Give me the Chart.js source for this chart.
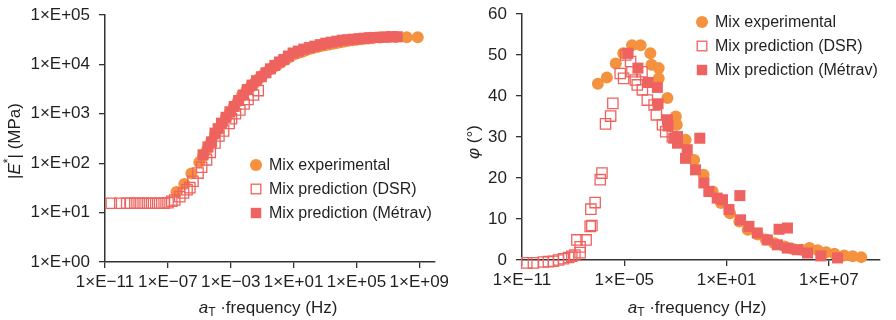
<!DOCTYPE html>
<html>
<head>
<meta charset="utf-8">
<script src="https://cdn.jsdelivr.net/npm/chart.js"></script>
<style>
body { margin: 0; background: #fff; }
#wrap { display: flex; width: 896px; height: 320px; }
canvas { display: block; }
</style>
</head>
<body>
<div id="wrap">
  <canvas id="modulusChart" width="448" height="320"></canvas>
  <canvas id="phaseChart" width="448" height="320"></canvas>
</div>
<script>
// reduced frequency is kept as log10(Hz)
const seriesNames = ['Mix experimental', 'Mix prediction (DSR)', 'Mix prediction (Métrav)'];

// |E*| master curve (MPa)
const modExpLogF = [-6.45,-5.95,-5.5,-5.0,-4.75,-4.5,-4.25,-4.0,-3.75,-3.55,-3.3,-3.05,-2.8,-2.55,-2.3,-2.0,-1.75,-1.5,-1.25,-1.0,-0.75,-0.5,-0.25,0,0.25,0.5,0.75,1.0,1.25,1.5,1.75,2.0,2.25,2.5,2.75,3.0,3.25,3.5,3.75,4.0,4.25,4.5,4.75,5.0,5.25,5.5,5.75,6.0,6.5,7.0,7.5,8.2,8.9];
const modExpE = [26,38,62,105,140,190,270,380,500,630,830,1070,1380,1780,2300,2950,3500,4170,5000,5890,6900,7940,9000,10000,11300,12600,14100,15800,16800,17800,19100,20400,21400,22400,23500,24500,25400,26300,27200,28200,29200,30200,30900,31600,32400,33100,33500,33900,35000,35700,36000,35500,35500];

const modDsrLogF = [-10.6,-10.06,-9.62,-9.37,-9.1,-8.83,-8.57,-8.3,-8.04,-7.77,-7.52,-7.24,-6.99,-6.75,-6.56,-6.24,-6.0,-5.78,-5.6,-5.4,-5.08,-4.85,-4.54,-4.3,-4.0,-3.75,-3.45,-3.1,-2.95,-2.7,-2.42,-2.15,-1.9,-1.55,-1.25];
const modDsrE = [15.5,15.5,15.5,15.5,15.5,15.5,15.5,15.5,15.5,15.5,15.5,15.5,15.8,17,18,21,25,29,32,43,63,83,117,166,257,355,450,640,794,1000,1200,1580,1950,2400,2950];

const modMetLogF = [-4.76,-4.45,-4.22,-4.0,-3.8,-3.59,-3.3,-3.05,-2.78,-2.5,-2.22,-1.95,-1.65,-1.36,-1.05,-0.76,-0.47,-0.19,0.1,0.38,0.67,0.97,1.3,1.65,2.0,2.35,2.7,3.05,3.4,3.75,4.1,4.45,4.8,5.15,5.5,5.85,6.2,6.55,6.9,7.25,7.6];
const modMetE = [148,214,270,407,500,646,850,1100,1410,1860,2400,3090,3800,4680,5620,6760,8130,9550,11200,12600,14800,17000,18600,20400,21900,23400,25100,26900,28200,29500,30900,31600,32400,33100,33900,34700,35100,35500,35900,36300,36300];

// phase angle (deg)
const phExpLogF = [-6.55,-6.02,-5.5,-5.06,-4.55,-4.04,-3.47,-3.4,-2.98,-2.98,-2.47,-1.98,-1.92,-1.4,-0.9,-0.35,0.18,0.67,1.2,1.75,2.24,2.82,3.3,3.8,4.4,4.9,5.4,5.86,6.35,6.84,7.33,7.9,8.4,8.9];
const phExpDeg = [43.0,44.5,47.9,50.4,52.4,52.4,50.4,47.6,46.8,44.3,39.5,35.0,33.0,29.3,24.4,20.8,16.7,13.9,11.4,9.4,7.4,6.2,5.0,4.1,3.3,2.7,2.5,2.9,2.4,1.9,1.5,1.1,0.9,0.7];

const phDsrLogF = [-10.72,-10.33,-9.75,-9.45,-9.16,-8.86,-8.57,-8.27,-8.08,-7.9,-7.78,-7.59,-7.59,-7.24,-7.0,-6.9,-6.96,-6.71,-6.41,-6.31,-6.1,-5.8,-5.67,-5.24,-5.04,-4.92,-4.63,-4.55,-4.35,-4.24,-3.96,-3.94,-3.65,-3.25,-3.12,-2.76,-2.57,-2.18];
const phDsrDeg = [-0.7,-0.7,-0.5,-0.4,-0.3,0,0.3,0.6,0.9,1.2,4.9,3.2,1.8,4.9,8.2,8.4,12.4,14,19.6,21.2,33.2,35.1,38.2,45.5,44.3,50,48.4,45.9,43.9,42.7,45.9,41.5,39,37.8,35.4,33,31.3,30.1];

const phMetLogF = [-4.78,-4.2,-3.6,-3.06,-3.02,-2.47,-2.43,-2.1,-1.88,-1.88,-1.31,-1.41,-0.82,-0.57,-0.33,-0.04,0.45,0.76,1.14,1.78,1.82,2.31,2.8,3.39,3.98,4.08,4.57,4.57,5.16,5.75,6.53,7.51];
const phMetDeg = [50.4,46.8,43.3,42.1,38.1,34.2,32.7,29.7,30.1,28.5,26.9,24.8,22.0,29.7,18.8,16.7,15.1,14.7,12.3,15.7,9.8,8.2,6.6,4.9,3.7,7.5,7.8,2.9,2.5,1.7,1.0,0.5];

// tick positions (log10 Hz / log10 MPa)
const modXTickExps = [-11, -7, -3, 1, 5, 9];
const modYTickExps = [0, 1, 2, 3, 4, 5];
const phXTickExps = [-11, -5, 1, 7];
const phYTicks = [0, 10, 20, 30, 40, 50, 60];

const FONT = '"Liberation Sans", Arial, sans-serif';
const TXT = '#231f20';
const AX = '#333';
const ORANGE = '#F4923F';
const RED = '#EE635F';

function pts(logF, vals) {
    return logF.map((f, i) => ({ x: Math.pow(10, f), y: vals[i] }));
}

function sciLabel(v) {
    const e = Math.round(Math.log10(v));
    const s = e < 0 ? '\u2212' : '+';
    return '1\u00d7E' + s + String(Math.abs(e)).padStart(2, '0');
}

function makeDatasets(exp, dsr, met) {
    return [{
        label: seriesNames[0], data: exp, order: 3, clip: false,
        pointStyle: 'circle', pointRadius: 6, pointHoverRadius: 6,
        backgroundColor: ORANGE, borderColor: ORANGE, borderWidth: 0
    }, {
        label: seriesNames[1], data: dsr, order: 2, clip: false,
        pointStyle: 'rect', pointRadius: 7.3, pointHoverRadius: 7.3,
        backgroundColor: 'rgba(255,255,255,0)', borderColor: RED, borderWidth: 1.3
    }, {
        label: seriesNames[2], data: met, order: 1, clip: false,
        pointStyle: 'rect', pointRadius: 7.8, pointHoverRadius: 7.8,
        backgroundColor: RED, borderColor: RED, borderWidth: 0
    }];
}

function drawRuns(ctx, runs, cx, cy) {
    let w = 0;
    runs.forEach(r => { ctx.font = r.font; w += ctx.measureText(r.text).width; });
    let x = cx - w / 2;
    ctx.textAlign = 'left';
    ctx.textBaseline = 'middle';
    runs.forEach(r => {
        ctx.font = r.font;
        ctx.fillText(r.text, x, cy + (r.dy || 0));
        x += ctx.measureText(r.text).width;
    });
}

// legend inside the plot and the mixed-style axis titles
const decor = {
    id: 'decor',
    afterDraw(chart, args, opts) {
        const ctx = chart.ctx;
        ctx.save();
        ctx.fillStyle = TXT;
        drawRuns(ctx, opts.xTitle.runs, opts.xTitle.x, opts.xTitle.y);
        ctx.save();
        ctx.translate(opts.yTitle.x, opts.yTitle.y);
        ctx.rotate(-Math.PI / 2);
        drawRuns(ctx, opts.yTitle.runs, 0, 0);
        ctx.restore();

        chart.data.datasets.forEach((ds, i) => {
            const mx = opts.legend.x, my = opts.legend.y + i * 24;
            if (ds.pointStyle === 'circle') {
                ctx.fillStyle = ds.backgroundColor;
                ctx.beginPath();
                ctx.arc(mx, my, 6, 0, Math.PI * 2);
                ctx.fill();
            } else if (ds.borderWidth > 0) {
                ctx.strokeStyle = ds.borderColor;
                ctx.lineWidth = ds.borderWidth;
                ctx.strokeRect(mx - 4.8, my - 4.8, 9.6, 9.6);
            } else {
                ctx.fillStyle = ds.backgroundColor;
                ctx.fillRect(mx - 5.2, my - 5.2, 10.4, 10.4);
            }
            ctx.fillStyle = TXT;
            ctx.font = '16px ' + FONT;
            ctx.textAlign = 'left';
            ctx.textBaseline = 'middle';
            ctx.fillText(ds.label, mx + 13, my + 1);
        });
        ctx.restore();
    }
};

const xTitleRuns = [
    { text: 'a', font: 'italic 17px ' + FONT },
    { text: 'T', font: '12px ' + FONT, dy: 5 },
    { text: ' \u00b7frequency (Hz)', font: '17px ' + FONT }
];

function axisStyle(extra) {
    return Object.assign({
        ticks: { color: TXT, font: { size: 17, family: FONT }, autoSkip: false, maxRotation: 0, padding: 4 },
        grid: { drawOnChartArea: false, drawTicks: true, tickLength: 6, color: AX, lineWidth: 1.3 },
        border: { display: true, color: AX, width: 1.5 }
    }, extra);
}

function stripPad(s) {
    s.paddingLeft = 0; s.paddingRight = 0; s.paddingTop = 0; s.paddingBottom = 0;
}

new Chart(document.getElementById('modulusChart'), {
    type: 'scatter',
    data: { datasets: makeDatasets(pts(modExpLogF, modExpE), pts(modDsrLogF, modDsrE), pts(modMetLogF, modMetE)) },
    options: {
        responsive: false, animation: false, events: [],
        layout: { padding: { top: 15, right: 13, left: 0, bottom: 0 } },
        plugins: {
            legend: { display: false }, tooltip: { enabled: false },
            decor: {
                legend: { x: 256, y: 165 },
                xTitle: { x: 268, y: 308, runs: xTitleRuns },
                yTitle: { x: 15, y: 141, runs: [
                    { text: '|', font: '17px ' + FONT },
                    { text: 'E', font: 'italic 17px ' + FONT },
                    { text: '*', font: '12px ' + FONT, dy: -6 },
                    { text: '| (MPa)', font: '17px ' + FONT }
                ] }
            }
        },
        scales: {
            x: axisStyle({
                type: 'logarithmic', min: 1e-11, max: 1e10,
                afterBuildTicks: s => { s.ticks = modXTickExps.map(e => ({ value: Math.pow(10, e) })); },
                afterFit: s => { s.height = 58; stripPad(s); },
                ticks: { color: TXT, font: { size: 17, family: FONT }, autoSkip: false, maxRotation: 0, padding: 4, callback: v => sciLabel(v) }
            }),
            y: axisStyle({
                type: 'logarithmic', min: 1, max: 1e5,
                afterBuildTicks: s => { s.ticks = modYTickExps.map(e => ({ value: Math.pow(10, e) })); },
                afterFit: s => { s.width = 105; stripPad(s); },
                ticks: { color: TXT, font: { size: 17, family: FONT }, autoSkip: false, padding: 9, callback: v => sciLabel(v) }
            })
        }
    },
    plugins: [decor]
});

new Chart(document.getElementById('phaseChart'), {
    type: 'scatter',
    data: { datasets: makeDatasets(pts(phExpLogF, phExpDeg), pts(phDsrLogF, phDsrDeg), pts(phMetLogF, phMetDeg)) },
    options: {
        responsive: false, animation: false, events: [],
        layout: { padding: { top: 14, right: 16, left: 0, bottom: 0 } },
        plugins: {
            legend: { display: false }, tooltip: { enabled: false },
            decor: {
                legend: { x: 254, y: 22 },
                xTitle: { x: 249, y: 308, runs: xTitleRuns },
                yTitle: { x: 26, y: 142, runs: [
                    { text: '\u03c6', font: 'italic 17px ' + FONT },
                    { text: ' (\u00b0)', font: '17px ' + FONT }
                ] }
            }
        },
        scales: {
            x: axisStyle({
                type: 'logarithmic', min: 1e-11, max: 1e10,
                afterBuildTicks: s => { s.ticks = phXTickExps.map(e => ({ value: Math.pow(10, e) })); },
                afterFit: s => { s.height = 60; stripPad(s); },
                ticks: { color: TXT, font: { size: 17, family: FONT }, autoSkip: false, maxRotation: 0, padding: 4, callback: v => sciLabel(v) }
            }),
            y: axisStyle({
                type: 'linear', min: 0, max: 60,
                afterBuildTicks: s => { s.ticks = phYTicks.map(v => ({ value: v })); },
                afterFit: s => { s.width = 74; stripPad(s); },
                ticks: { color: TXT, font: { size: 17, family: FONT }, autoSkip: false, padding: 9 }
            })
        }
    },
    plugins: [decor]
});
</script>
</body>
</html>
